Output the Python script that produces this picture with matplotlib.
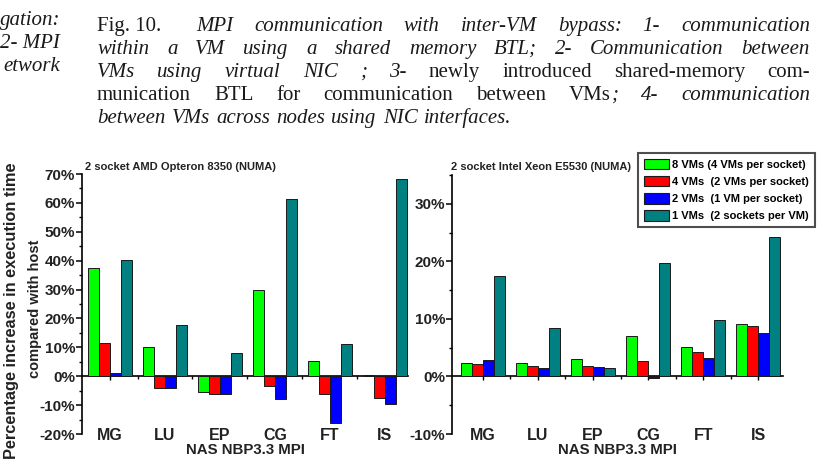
import numpy as np
import matplotlib.pyplot as plt
from matplotlib.patches import Patch
from matplotlib.ticker import MultipleLocator, FuncFormatter

benchmarks = ["MG", "LU", "EP", "CG", "FT", "IS"]
series_labels = ["8 VMs (4 VMs per socket)", "4 VMs  (2 VMs per socket)",
                 "2 VMs  (1 VM per socket)", "1 VMs  (2 sockets per VM)"]
colors = ["#00ff00", "#ff0000", "#0000ff", "#008080"]

# AMD Opteron 8350, % increase over host
amd_8vm = [37.4, 10.1, -5.6, 29.8, 5.2, 0.5]
amd_4vm = [11.4, -4.2, -6.2, -3.5, -6.3, -7.6]
amd_2vm = [1.0, -4.2, -6.2, -8.0, -16.2, -9.7]
amd_1vm = [40.3, 17.8, 8.0, 61.2, 11.1, 68.3]

# Intel Xeon E5530
intel_8vm = [2.3, 2.3, 3.0, 7.0, 5.2, 9.1]
intel_4vm = [2.1, 1.9, 1.9, 2.6, 4.2, 8.8]
intel_2vm = [2.8, 1.4, 1.7, -0.3, 3.2, 7.5]
intel_1vm = [17.4, 8.5, 1.4, 19.7, 9.8, 24.3]

W, H = 826, 467
sans = ["Liberation Sans", "DejaVu Sans"]
serif = ["Liberation Serif", "DejaVu Serif"]

fig = plt.figure(figsize=(W / 100, H / 100), dpi=100)
fig.patch.set_facecolor("white")


def fx(px):
    return px / W


def fy(py):
    return (H - py) / H


def draw_panel(ax, series, ylim, xlim, title, title_x):
    x = np.arange(len(benchmarks))
    for i, (vals, c) in enumerate(zip(series, colors)):
        ax.bar(x + (i - 1.5) * 0.2, vals, 0.2, color=c,
               edgecolor="#1a1a1a", linewidth=0.7)
    ax.set_ylim(ylim)
    ax.set_xlim(xlim)
    for s in ["top", "right", "bottom"]:
        ax.spines[s].set_visible(False)
    ax.spines["left"].set_linewidth(1.2)
    ax.set_xticks(x, benchmarks)
    ax.tick_params(axis="x", length=0, pad=-4.5, labelsize=11.5, labelcolor="#222222")
    for lab in ax.get_xticklabels():
        lab.set_family(sans)
        lab.set_weight("bold")
    ax.yaxis.set_major_locator(MultipleLocator(10))
    ax.yaxis.set_minor_locator(MultipleLocator(5))
    ax.yaxis.set_major_formatter(FuncFormatter(lambda v, p: "%d%%" % round(v)))
    ax.tick_params(axis="y", which="major", length=4, width=1.1, pad=1,
                   labelsize=11, labelcolor="#222222")
    ax.tick_params(axis="y", which="minor", length=2, width=1)
    for lab in ax.get_yticklabels():
        lab.set_family(sans)
        lab.set_weight("bold")
    # zero line with ticks
    sec = ax.secondary_xaxis((0 - ylim[0]) / (ylim[1] - ylim[0]))
    sec.set_xticks(x)
    sec.set_xticklabels([])
    sec.set_xticks(x + 0.5, minor=True)
    sec.tick_params(which="major", length=3, width=1)
    sec.tick_params(which="minor", length=2, width=1)
    for s in sec.spines.values():
        s.set_linewidth(1.2)
    ax.set_xlabel("NAS NBP3.3 MPI", family=sans, weight="bold", fontsize=10.8,
                  color="#222222", labelpad=0)
    fig.text(fx(title_x), fy(167), title, family=sans, weight="bold",
             fontsize=8.0, color="#222222", va="center", ha="left")


ax1 = fig.add_axes([fx(82), fy(434), (408 - 82) / W, (434 - 174) / H])
draw_panel(ax1, [amd_8vm, amd_4vm, amd_2vm, amd_1vm], (-20, 70), (-0.51, 5.42),
           "2 socket AMD Opteron 8350 (NUMA)", 85)

ax2 = fig.add_axes([fx(452), fy(434), (783 - 452) / W, (434 - 175) / H])
draw_panel(ax2, [intel_8vm, intel_4vm, intel_2vm, intel_1vm], (-10, 35), (-0.56, 5.45),
           "2 socket Intel Xeon E5530 (NUMA)", 451)

fig.text(fx(12), fy(311), "Percentage increase in execution time", rotation=90,
         family=sans, weight="bold", fontsize=11.8,
         color="#222222", ha="center", va="center")
fig.text(fx(35), fy(309), "compared with host", rotation=90,
         family=sans, weight="bold", fontsize=10.5,
         color="#222222", ha="center", va="center")

handles = [Patch(facecolor=c, edgecolor="#1a1a1a", linewidth=0.8) for c in colors]
leg = fig.legend(handles, series_labels, loc="upper left",
                 bbox_to_anchor=(fx(638), fy(153)), fancybox=False,
                 prop={"family": sans, "weight": "bold", "size": 8},
                 handlelength=2.3, handleheight=1.1, labelspacing=0.55,
                 handletextpad=0.3, borderpad=0.5, borderaxespad=0)
leg.get_frame().set_edgecolor("#222222")
leg.get_frame().set_linewidth(1.5)

# caption text, justified lines: (word, style, gap_after)
cap_size = 15
line_words = [
    [("Fig. 10.", "normal", True)]
    + [(w, "italic", True) for w in "MPI communication with inter-VM bypass: 1- communication".split()],
    [(w, "italic", True) for w in "within a VM using a shared memory BTL; 2- Communication between".split()],
    [(w, "italic", True) for w in "VMs using virtual NIC ; 3-".split()]
    + [(w, "normal", True) for w in "newly introduced shared-memory com-".split()],
    [(w, "normal", True) for w in "munication BTL for communication between".split()]
    + [("VMs", "normal", False)]
    + [(w, "italic", True) for w in "; 4- communication".split()],
    [(w, "italic", True) for w in "between VMs across nodes using NIC interfaces.".split()],
]
baselines = [31, 54, 77, 100, 123]
extra_after_first = 14

renderer = fig.canvas.get_renderer()
x0, x1 = 97, 810
for li, (tokens, ybase) in enumerate(zip(line_words, baselines)):
    texts, widths = [], []
    for word, style, _ in tokens:
        t = fig.text(0, fy(ybase), word, family=serif, style=style,
                     fontsize=cap_size, color="#1a1a1a", va="baseline", ha="left")
        texts.append(t)
        widths.append(t.get_window_extent(renderer).width)
    extras = [0] * len(tokens)
    if li == 0:
        extras[0] = extra_after_first
    n_gaps = sum(1 for tok in tokens[:-1] if tok[2])
    if li < len(line_words) - 1:
        gap = (x1 - x0 - sum(widths) - sum(extras)) / max(n_gaps, 1)
    else:
        gap = cap_size * 0.3 * 100 / 72
    x = x0
    for i, t in enumerate(texts):
        t.set_x(fx(x))
        x += widths[i] + extras[i] + (gap if tokens[i][2] else 0)

# fragments of the neighbouring text column (visible parts only)
for word, yb in [("gation:", 25), ("2- MPI", 48), ("etwork", 71)]:
    fig.text(fx(60), fy(yb), word, family=serif, style="italic", fontsize=cap_size,
             color="#1a1a1a", va="baseline", ha="right")

fig.savefig("out.png", dpi=100)
